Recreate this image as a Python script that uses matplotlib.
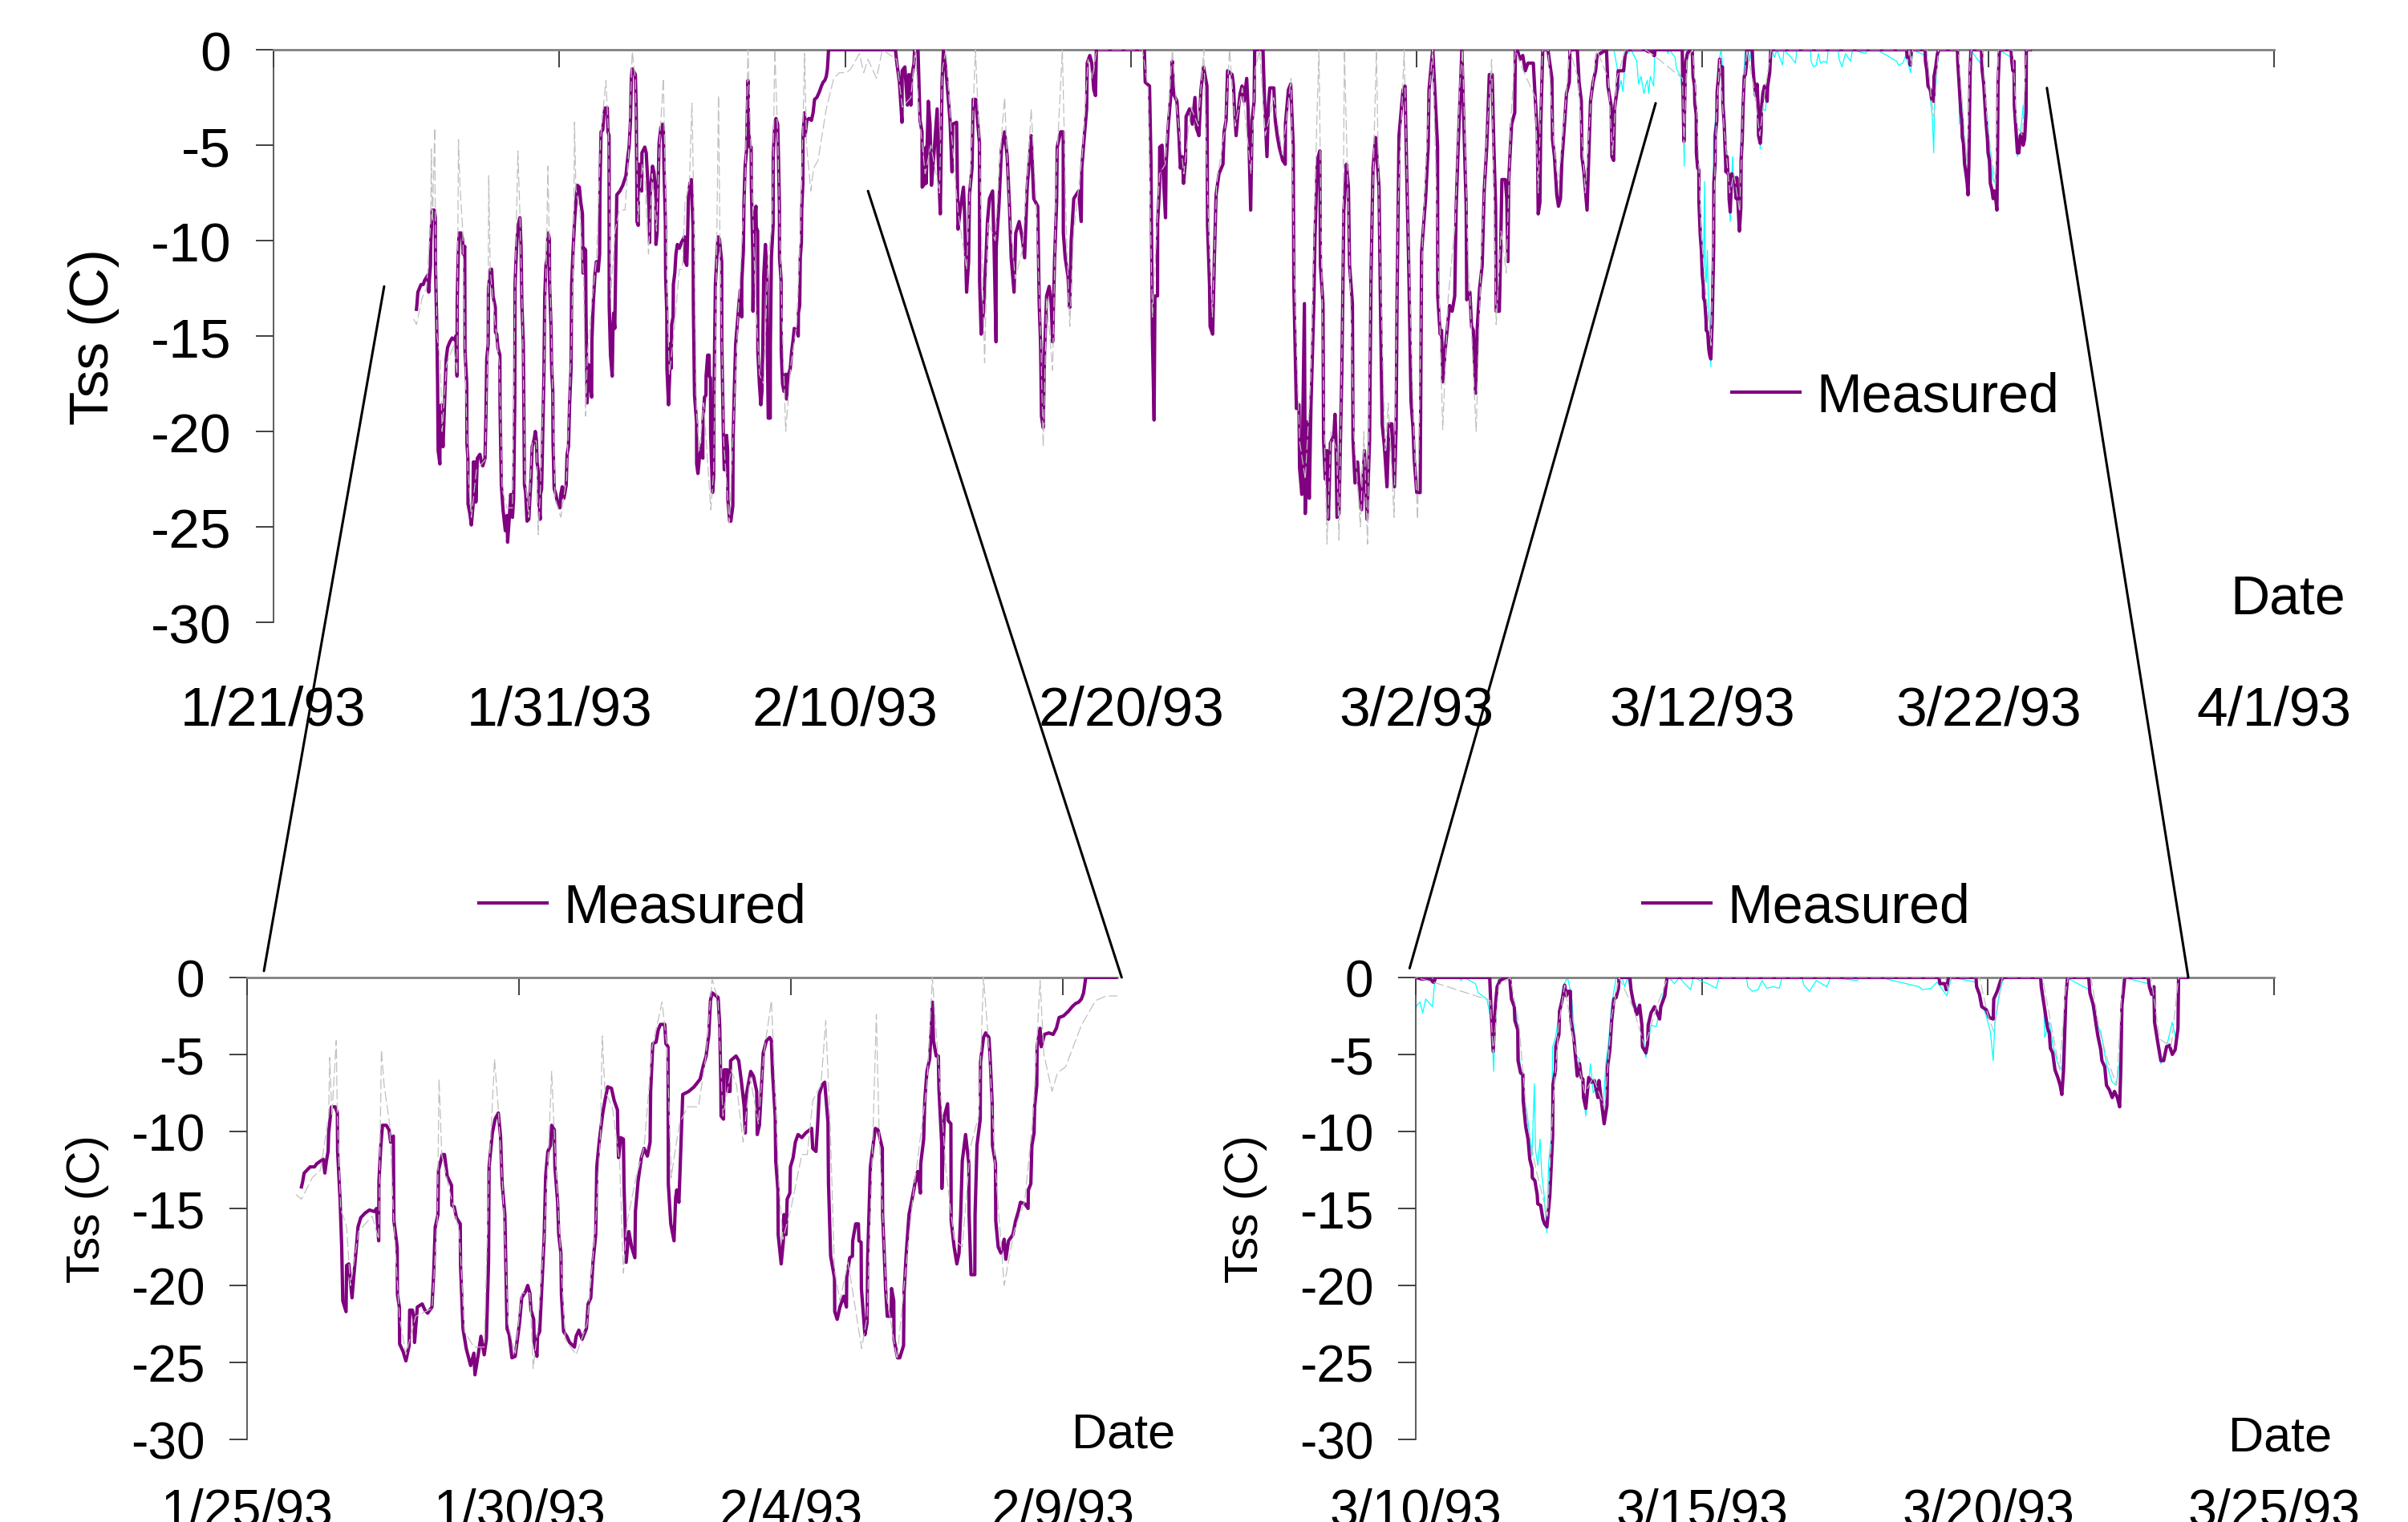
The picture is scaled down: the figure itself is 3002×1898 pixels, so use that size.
import matplotlib
matplotlib.use('Agg')
import matplotlib.pyplot as plt
import matplotlib.dates as mdates
import pandas as pd
from matplotlib.patches import ConnectionPatch

plt.rcParams['font.family'] = ['Liberation Sans', 'DejaVu Sans']
plt.rcParams['axes.unicode_minus'] = False

START = pd.Timestamp('1993-01-21')

# (days after 1/21/93, Tss in C)
measured = [
    (5.00, -13.6), (5.02, -13.3), (5.05, -12.7), (5.16, -12.3), (5.24, -12.3), (5.28, -12.1),
    (5.36, -11.9), (5.40, -11.8), (5.43, -12.7), (5.46, -11.9), (5.49, -11.3), (5.50, -10.1),
    (5.55, -8.4), (5.62, -8.4), (5.66, -8.8), (5.665, -11.3), (5.71, -14.4), (5.74, -17.5),
    (5.76, -21.0), (5.82, -21.7), (5.83, -18.7), (5.87, -18.6), (5.93, -20.8), (5.96, -19.5),
    (6.01, -17.5), (6.04, -16.2), (6.09, -15.6), (6.17, -15.3), (6.25, -15.1), (6.34, -15.2),
    (6.38, -15.0), (6.42, -17.1), (6.425, -13.2), (6.46, -10.9), (6.49, -9.6), (6.56, -9.6),
    (6.61, -9.9), (6.64, -10.7), (6.69, -10.3), (6.70, -15.8), (6.76, -17.5), (6.765, -20.6),
    (6.80, -21.4), (6.805, -23.8), (6.87, -24.3), (6.92, -24.9), (6.98, -23.9), (6.99, -21.6),
    (7.04, -21.6), (7.07, -22.2), (7.08, -23.7), (7.13, -21.4), (7.22, -21.2), (7.27, -21.6),
    (7.32, -21.8), (7.40, -21.4), (7.43, -19.3), (7.46, -16.2), (7.51, -15.4), (7.52, -12.5),
    (7.59, -11.5), (7.63, -11.5), (7.68, -12.9), (7.76, -13.5), (7.765, -14.8), (7.81, -14.9),
    (7.85, -15.6), (7.92, -16.0), (7.925, -18.7), (7.97, -22.8), (8.03, -24.1), (8.11, -25.2),
    (8.17, -24.4), (8.19, -25.8), (8.25, -24.5), (8.30, -23.3), (8.36, -24.5), (8.40, -23.5),
    (8.44, -18.5), (8.45, -12.3), (8.51, -10.1), (8.56, -9.2), (8.62, -8.8), (8.66, -10.3),
    (8.69, -13.4), (8.74, -15.4), (8.76, -19.1), (8.78, -22.8), (8.82, -23.2), (8.87, -24.7),
    (8.93, -24.6), (9.01, -22.4), (9.05, -20.8), (9.12, -20.4), (9.16, -20.0), (9.20, -20.5),
    (9.22, -21.6), (9.27, -22.2), (9.28, -23.7), (9.33, -24.6), (9.34, -23.3), (9.38, -23.0),
    (9.42, -20.0), (9.46, -17.1), (9.49, -12.9), (9.53, -11.3), (9.58, -10.9), (9.60, -9.6),
    (9.65, -9.9), (9.66, -12.3), (9.71, -14.6), (9.73, -16.7), (9.77, -17.9), (9.78, -20.6),
    (9.82, -23.0), (9.88, -23.3), (9.93, -23.7), (10.02, -24.0), (10.05, -23.3), (10.10, -22.9),
    (10.16, -23.5), (10.24, -22.8), (10.27, -21.2), (10.32, -20.8), (10.36, -18.5), (10.41, -16.7),
    (10.43, -12.3), (10.48, -10.5), (10.54, -8.8), (10.58, -8.0), (10.63, -7.1), (10.70, -7.2),
    (10.75, -8.0), (10.81, -8.6), (10.82, -10.5), (10.83, -11.7), (10.87, -10.4), (10.92, -10.5),
    (10.93, -13.4), (10.97, -18.5), (11.02, -16.5), (11.07, -17.5), (11.13, -18.2), (11.14, -15.2),
    (11.19, -13.2), (11.25, -11.7), (11.30, -11.1), (11.36, -11.6), (11.41, -10.7), (11.42, -7.4),
    (11.46, -4.3), (11.52, -4.2), (11.56, -3.4), (11.60, -3.05), (11.68, -3.05), (11.70, -4.3),
    (11.74, -4.5), (11.745, -13.4), (11.79, -16.0), (11.85, -17.1), (11.88, -14.3), (11.90, -13.8),
    (11.94, -14.6), (12.01, -7.6), (12.12, -7.4), (12.22, -7.1), (12.33, -6.6), (12.39, -5.7),
    (12.44, -5.1), (12.49, -3.7), (12.52, -1.5), (12.55, -1.0), (12.66, -1.3), (12.69, -3.1),
    (12.71, -6.8), (12.715, -9.0), (12.76, -9.2), (12.77, -6.0), (12.83, -6.0), (12.835, -7.4),
    (12.88, -7.4), (12.89, -5.4), (12.99, -5.1), (13.04, -5.4), (13.09, -6.8), (13.14, -8.4),
    (13.16, -10.1), (13.18, -7.6), (13.26, -6.1), (13.31, -6.4), (13.37, -7.4), (13.38, -10.2),
    (13.42, -9.6), (13.45, -7.6), (13.49, -4.9), (13.55, -4.1), (13.61, -3.9), (13.64, -4.1),
    (13.66, -6.1), (13.71, -9.0), (13.72, -11.9), (13.76, -13.8), (13.765, -16.7), (13.82, -18.6),
    (13.86, -17.1), (13.87, -15.4), (13.91, -16.7), (13.93, -14.4), (13.98, -14.0), (13.99, -12.3),
    (14.04, -11.7), (14.08, -10.7), (14.13, -10.2), (14.20, -10.4), (14.27, -10.1), (14.38, -9.8),
    (14.40, -11.1), (14.46, -11.3), (14.49, -9.6), (14.52, -7.6), (14.57, -7.0), (14.62, -6.8),
    (14.68, -9.4), (14.69, -13.4), (14.73, -18.1), (14.80, -19.5), (14.805, -21.7), (14.85, -22.2),
    (14.90, -21.4), (14.97, -20.7), (15.02, -21.4), (15.025, -19.5), (15.08, -18.2), (15.13, -18.1),
    (15.135, -17.1), (15.19, -16.0), (15.24, -16.0), (15.25, -17.1), (15.29, -17.2), (15.295, -20.2),
    (15.36, -23.2), (15.40, -22.4), (15.41, -18.3), (15.46, -12.3), (15.51, -10.9), (15.55, -9.8),
    (15.60, -9.9), (15.68, -11.1), (15.685, -15.4), (15.71, -17.5), (15.74, -20.2), (15.77, -22.0),
    (15.84, -22.0), (15.85, -20.2), (15.89, -21.0), (15.895, -23.5), (15.96, -24.7), (16.00, -24.7),
    (16.07, -23.9), (16.08, -20.4), (16.12, -17.9), (16.17, -15.4), (16.22, -14.5), (16.29, -13.2),
    (16.33, -12.6), (16.38, -14.0), (16.385, -12.1), (16.44, -10.5), (16.46, -8.0), (16.50, -6.1),
    (16.55, -5.3), (16.57, -3.9), (16.60, -1.6), (16.62, -4.1), (16.67, -5.1), (16.71, -5.1),
    (16.72, -7.2), (16.77, -10.7), (16.775, -13.7), (16.82, -9.0), (16.88, -8.2), (16.89, -9.3),
    (16.94, -9.5), (16.945, -15.8), (17.00, -17.5), (17.05, -18.6), (17.09, -17.9), (17.12, -15.4),
    (17.15, -11.9), (17.21, -10.2), (17.27, -12.1), (17.275, -15.4), (17.31, -19.3), (17.38, -19.3),
    (17.385, -15.4), (17.42, -10.9), (17.48, -9.2), (17.485, -5.5), (17.54, -3.9), (17.58, -3.6),
    (17.64, -3.9), (17.66, -5.1), (17.70, -8.2), (17.705, -10.9), (17.76, -12.1), (17.765, -15.8),
    (17.81, -17.5), (17.86, -17.9), (17.92, -17.0), (17.95, -18.3), (18.00, -17.1), (18.08, -16.7),
    (18.13, -15.8), (18.18, -15.2), (18.22, -14.6), (18.30, -14.7), (18.36, -15.0), (18.365, -13.8),
    (18.41, -13.4), (18.43, -10.9), (18.47, -10.1), (18.48, -8.4), (18.52, -7.0), (18.525, -4.5),
    (18.58, -3.3), (18.60, -4.5), (18.66, -3.7), (18.74, -3.6), (18.82, -3.7), (18.88, -3.3),
    (18.93, -2.6), (19.01, -2.5), (19.10, -2.2), (19.17, -1.9), (19.23, -1.7), (19.29, -1.6),
    (19.34, -1.4), (19.38, -1.0), (19.42, 0.0), (21.76, 0.0), (21.81, -0.7), (21.90, -1.7),
    (21.99, -3.8), (21.995, -1.1), (22.09, -0.9), (22.18, -2.9), (22.23, -1.3), (22.30, -2.9),
    (22.32, -1.5), (22.41, -0.7), (22.43, 0.0), (22.55, 0.0), (22.62, -3.7), (22.69, -4.3),
    (22.695, -7.2), (22.79, -7.0), (22.83, -5.1), (22.835, -7.0), (22.91, -2.7), (22.97, -3.9),
    (23.02, -7.1), (23.11, -5.4), (23.22, -3.1), (23.25, -5.4), (23.33, -8.6), (23.39, -1.7),
    (23.44, 0.0), (23.53, -1.1), (23.67, -3.7), (23.74, -6.4), (23.76, -3.9), (23.90, -3.8),
    (23.95, -9.4), (24.04, -8.2), (24.14, -7.2), (24.18, -8.6), (24.25, -12.7), (24.32, -11.1),
    (24.35, -7.6), (24.44, -6.2), (24.48, -2.6), (24.57, -2.6), (24.70, -4.9), (24.705, -12.1),
    (24.76, -14.9), (24.84, -13.7), (24.88, -12.3), (24.93, -10.9), (24.98, -9.0), (25.05, -7.8),
    (25.16, -7.4), (25.21, -10.2), (25.28, -15.3), (25.285, -10.4), (25.38, -8.2), (25.47, -5.2),
    (25.58, -4.3), (25.67, -5.6), (25.75, -8.2), (25.81, -10.9), (25.91, -12.7), (25.97, -9.6),
    (26.09, -9.0), (26.19, -9.8), (26.28, -10.9), (26.37, -7.2), (26.51, -4.5), (26.60, -7.8),
    (26.74, -8.2), (26.79, -13.3), (26.84, -15.5), (26.87, -19.2), (26.93, -19.8), (26.98, -15.7),
    (27.05, -12.9), (27.14, -12.4), (27.21, -13.3), (27.26, -15.3), (27.33, -10.9), (27.40, -8.0),
    (27.42, -5.1), (27.54, -4.3), (27.63, -4.3), (27.635, -9.6), (27.70, -10.9), (27.80, -11.9),
    (27.86, -13.5), (27.91, -10.0), (28.00, -7.8), (28.17, -7.4), (28.26, -9.0), (28.28, -6.2),
    (28.36, -4.7), (28.45, -3.1), (28.47, -0.7), (28.56, -0.3), (28.63, -0.7), (28.70, -2.1),
    (28.76, -2.4), (28.79, 0.0), (30.47, 0.0), (30.50, -1.7), (30.65, -1.9), (30.70, -5.8),
    (30.75, -14.9), (30.81, -19.4), (30.84, -12.9), (30.93, -12.9), (30.935, -9.0), (31.00, -7.2),
    (31.005, -5.1), (31.09, -5.0), (31.12, -6.2), (31.21, -8.8), (31.23, -6.0), (31.31, -3.9),
    (31.40, -2.3), (31.45, -0.6), (31.49, -2.3), (31.61, -2.7), (31.68, -4.5), (31.73, -6.2),
    (31.80, -5.6), (31.84, -7.0), (31.91, -5.8), (31.93, -3.5), (32.05, -3.1), (32.15, -3.9),
    (32.24, -2.5), (32.29, -4.1), (32.38, -4.5), (32.45, -2.1), (32.54, -0.9), (32.66, -1.9),
    (32.68, -9.2), (32.75, -12.3), (32.77, -14.5), (32.86, -14.9), (32.92, -10.9), (32.98, -7.6),
    (33.08, -6.5), (33.22, -6.0), (33.26, -4.3), (33.33, -3.7), (33.38, -1.1), (33.54, -1.3),
    (33.59, -1.9), (33.63, -3.3), (33.68, -4.5), (33.76, -3.1), (33.82, -2.3), (33.89, -1.9),
    (33.96, -2.7), (34.05, -1.5), (34.10, -3.1), (34.19, -8.4), (34.24, -3.7), (34.31, -2.7),
    (34.33, 0.0), (34.62, 0.0), (34.68, -2.9), (34.76, -5.6), (34.81, -2.9), (34.86, -2.0),
    (35.00, -2.0), (35.05, -3.7), (35.12, -4.5), (35.19, -5.1), (35.31, -5.8), (35.40, -6.0),
    (35.405, -3.9), (35.51, -2.1), (35.59, -1.8), (35.68, -5.1), (35.70, -12.3), (35.79, -18.8),
    (35.88, -18.6), (35.90, -21.9), (35.98, -23.3), (36.07, -13.3), (36.10, -24.3), (36.18, -19.5),
    (36.24, -23.5), (36.30, -18.6), (36.40, -13.3), (36.44, -9.8), (36.52, -5.8), (36.61, -5.3),
    (36.63, -11.3), (36.72, -13.3), (36.74, -20.4), (36.80, -22.5), (36.86, -21.0), (36.91, -24.6),
    (36.98, -20.6), (37.10, -20.2), (37.14, -19.1), (37.17, -20.2), (37.21, -24.5), (37.28, -24.3),
    (37.38, -16.8), (37.45, -8.4), (37.54, -6.0), (37.61, -7.2), (37.65, -11.3), (37.75, -13.3),
    (37.77, -20.4), (37.84, -22.7), (37.93, -21.6), (37.98, -22.7), (38.07, -24.1), (38.17, -21.0),
    (38.26, -24.6), (38.35, -20.4), (38.40, -11.9), (38.47, -6.2), (38.56, -4.6), (38.68, -7.2),
    (38.73, -13.3), (38.79, -19.6), (38.87, -20.8), (38.96, -22.9), (39.03, -19.6), (39.13, -19.6),
    (39.22, -22.9), (39.28, -19.8), (39.31, -13.3), (39.38, -4.5), (39.52, -2.1), (39.59, -1.9),
    (39.66, -7.2), (39.72, -11.3), (39.80, -18.4), (39.87, -19.8), (39.91, -21.4), (40.00, -23.2),
    (40.12, -23.2), (40.15, -15.3), (40.17, -10.6), (40.31, -7.8), (40.40, -5.1), (40.43, -2.1),
    (40.52, -0.6), (40.56, 0.0), (40.62, -1.7), (40.73, -5.1), (40.735, -12.9), (40.82, -14.9),
    (40.87, -14.7), (40.91, -17.4), (41.01, -15.5), (41.15, -13.4), (41.24, -13.7), (41.33, -12.9),
    (41.38, -8.2), (41.45, -5.1), (41.54, -1.5), (41.58, 0.0), (41.66, -4.5), (41.73, -8.2),
    (41.75, -13.1), (41.86, -12.7), (41.92, -14.5), (41.98, -14.7), (42.06, -18.0), (42.12, -14.5),
    (42.20, -12.5), (42.29, -11.3), (42.36, -7.4), (42.45, -5.1), (42.54, -1.3), (42.64, -1.3),
    (42.70, -5.1), (42.76, -8.2), (42.78, -13.7), (42.89, -13.7), (42.94, -10.2), (42.98, -6.8),
    (43.10, -6.8), (43.15, -7.8), (43.19, -11.1), (43.22, -6.8), (43.32, -3.9), (43.43, -3.3),
    (43.45, 0.0), (43.52, 0.0), (43.61, -0.5), (43.71, -0.3), (43.80, -1.1), (43.89, -0.7),
    (44.08, -0.7), (44.13, -2.1), (44.22, -4.3), (44.25, -8.6), (44.31, -8.0), (44.34, -3.9),
    (44.41, 0.0), (44.59, 0.0), (44.73, -1.5), (44.75, -4.7), (44.82, -5.6), (44.90, -7.6),
    (44.96, -8.2), (45.03, -7.8), (45.08, -5.8), (45.18, -3.7), (45.24, -2.3), (45.34, -1.7),
    (45.36, 0.0), (45.62, 0.0), (45.68, -1.7), (45.76, -2.7), (45.78, -5.6), (45.85, -6.4),
    (45.96, -8.4), (46.03, -5.1), (46.08, -2.7), (46.17, -1.7), (46.26, -1.1), (46.31, -0.3),
    (46.64, 0.0), (46.69, -1.9), (46.80, -2.9), (46.83, -5.6), (46.89, -5.8), (46.92, -3.1),
    (47.01, -2.1), (47.05, -1.1), (47.24, -1.1), (47.29, -0.3), (47.34, 0.0), (48.00, 0.0),
    (48.10, -0.1), (48.25, -0.1), (48.30, -0.3), (48.32, -0.3), (48.34, 0.0), (49.29, 0.0),
    (49.31, -1.8), (49.35, -4.8), (49.39, -1.8), (49.42, -0.6), (49.47, -0.2), (49.52, -0.1),
    (49.57, 0.0), (49.64, 0.0), (49.67, -1.4), (49.72, -1.9), (49.73, -2.8), (49.78, -3.4),
    (49.785, -5.4), (49.83, -6.2), (49.87, -6.3), (49.875, -8.0), (49.92, -9.7), (49.96, -10.5),
    (49.99, -11.8), (50.03, -12.4), (50.035, -13.0), (50.08, -13.2), (50.12, -14.1), (50.13, -14.7),
    (50.18, -14.8), (50.22, -15.7), (50.25, -16.0), (50.29, -16.2), (50.34, -14.2), (50.39, -10.3),
    (50.395, -7.0), (50.44, -6.0), (50.445, -4.5), (50.50, -3.7), (50.51, -2.2), (50.56, -1.4),
    (50.60, -0.5), (50.63, -1.2), (50.66, -0.9), (50.70, -0.9), (50.71, -2.8), (50.76, -3.9),
    (50.80, -5.6), (50.82, -6.4), (50.86, -5.6), (50.89, -6.5), (50.92, -6.6), (50.93, -7.8),
    (50.97, -8.5), (51.02, -6.5), (51.07, -6.8), (51.12, -6.7), (51.18, -7.8), (51.20, -6.7),
    (51.24, -8.0), (51.29, -9.5), (51.34, -8.3), (51.35, -5.8), (51.39, -4.7), (51.42, -2.9),
    (51.46, -1.4), (51.50, -1.3), (51.54, -0.7), (51.55, 0.0), (51.74, 0.0), (51.76, -0.8),
    (51.80, -1.6), (51.86, -2.4), (51.91, -1.8), (51.95, -3.1), (51.96, -4.5), (52.02, -4.9),
    (52.05, -4.3), (52.06, -3.1), (52.11, -2.3), (52.17, -1.9), (52.26, -2.7), (52.28, -1.9),
    (52.35, -1.2), (52.37, -0.6), (52.39, 0.0), (57.14, 0.0), (57.16, -0.4), (57.24, -0.4),
    (57.27, -0.8), (57.31, 0.0), (57.79, 0.0), (57.80, -0.6), (57.85, -1.1), (57.89, -1.9),
    (57.97, -2.1), (58.02, -2.6), (58.09, -2.7), (58.10, -1.4), (58.16, -0.9), (58.22, -0.2),
    (58.27, 0.0), (58.92, 0.0), (58.93, -0.6), (58.98, -1.8), (59.04, -3.3), (59.07, -3.6),
    (59.09, -4.6), (59.13, -4.9), (59.17, -6.0), (59.22, -6.5), (59.26, -7.0), (59.29, -7.6),
    (59.32, -6.0), (59.36, -1.3), (59.39, 0.0), (59.76, 0.0), (59.78, -1.0), (59.84, -1.8),
    (59.89, -3.1), (59.92, -3.8), (59.97, -4.7), (59.99, -5.4), (60.04, -5.8), (60.07, -7.0),
    (60.12, -7.3), (60.17, -7.8), (60.21, -7.4), (60.26, -7.8), (60.30, -8.4), (60.32, -6.0),
    (60.34, -1.8), (60.39, 0.0), (60.80, 0.0), (60.82, -0.6), (60.86, -1.1), (60.90, -0.6),
    (60.91, -2.9), (60.97, -4.3), (61.02, -5.4), (61.07, -5.4), (61.12, -4.5), (61.17, -4.4),
    (61.22, -5.0), (61.27, -4.7), (61.32, -3.3), (61.33, 0.0), (61.47, 0.0),
]

# thin grey dashed run
model_grey = [
    (4.9, -14.1), (5.0, -14.4), (5.2, -13.0), (5.35, -12.5), (5.5, -9.0), (5.52, -5.2), (5.56, -9.0),
    (5.64, -4.1), (5.66, -9.0), (5.72, -15.0), (5.83, -16.2), (5.9, -20.0), (6.05, -16.5),
    (6.3, -15.5), (6.42, -17.0), (6.47, -4.7), (6.52, -7.0), (6.62, -9.5), (6.7, -16.0),
    (6.8, -22.0), (6.92, -24.5), (7.1, -22.0), (7.4, -21.5), (7.5, -15.5), (7.53, -6.6),
    (7.58, -11.5), (7.7, -13.5), (7.9, -16.5), (8.0, -23.0), (8.17, -24.0), (8.36, -24.0),
    (8.45, -12.5), (8.55, -5.3), (8.62, -8.6), (8.72, -15.0), (8.8, -22.5), (8.93, -24.5),
    (9.05, -20.5), (9.2, -20.5), (9.26, -25.4), (9.34, -23.0), (9.46, -17.0), (9.55, -10.5),
    (9.6, -6.1), (9.66, -11.0), (9.75, -17.0), (9.85, -23.5), (10.05, -24.5), (10.25, -22.5),
    (10.4, -16.5), (10.5, -10.0), (10.53, -3.8), (10.58, -7.3), (10.72, -8.5), (10.85, -12.0),
    (10.92, -19.2), (10.98, -16.0), (11.15, -13.0), (11.3, -11.0), (11.45, -4.5), (11.63, -1.6),
    (11.72, -4.5), (11.8, -13.0), (11.85, -11.7), (11.95, -9.5), (12.1, -8.4), (12.3, -8.4),
    (12.44, -5.0), (12.55, -0.1), (12.66, -1.5), (12.75, -9.0), (12.9, -6.0), (13.0, -7.0),
    (13.12, -10.7), (13.25, -6.5), (13.4, -9.5), (13.5, -5.0), (13.64, -1.5), (13.7, -6.5),
    (13.78, -13.5), (13.85, -17.0), (14.0, -15.0), (14.2, -11.5), (14.3, -11.5), (14.4, -8.0),
    (14.55, -7.0), (14.64, -2.8), (14.72, -9.5), (14.8, -19.0), (14.9, -21.0), (15.05, -18.5),
    (15.3, -24.1), (15.4, -22.0), (15.5, -11.0), (15.57, -2.4), (15.62, -10.0), (15.75, -20.5),
    (15.95, -24.8), (16.08, -20.0), (16.25, -14.0), (16.5, -7.0), (16.6, 0.0), (16.7, -5.0),
    (16.85, -12.5), (17.0, -17.0), (17.15, -17.5), (17.3, -11.0), (17.45, -9.0), (17.54, 0.0),
    (17.65, -5.0), (17.75, -12.0), (17.92, -20.0), (18.1, -16.5), (18.3, -14.5), (18.45, -9.0),
    (18.58, -0.2), (18.65, -5.0), (18.8, -7.4), (18.9, -6.2), (19.05, -5.8), (19.34, -3.1),
    (19.6, -1.5), (19.8, -1.2), (20.05, -1.2), (20.2, -1.0), (20.5, -0.2), (20.65, -1.2),
    (20.8, -0.5), (21.1, -1.5), (21.3, 0.0), (21.8, -0.5), (22.0, -3.0), (22.3, -2.5),
    (22.45, 0.0), (22.6, -3.5), (22.8, -6.5), (23.0, -5.0), (23.3, -7.5), (23.4, -1.0),
    (23.53, 0.0), (23.7, -4.0), (23.95, -8.5), (24.25, -11.5), (24.4, -6.0), (24.56, 0.0),
    (24.7, -5.0), (24.88, -16.4), (25.0, -9.0), (25.25, -10.0), (25.4, -6.0), (25.58, -2.5),
    (25.75, -8.5), (25.95, -12.0), (26.2, -10.5), (26.4, -6.0), (26.51, -3.1), (26.7, -8.5),
    (26.85, -15.5), (26.93, -20.8), (27.05, -13.0), (27.26, -16.8), (27.4, -6.0), (27.6, 0.0),
    (27.75, -10.0), (27.86, -14.5), (28.0, -9.5), (28.3, -5.5), (28.5, -0.5), (28.65, -1.5),
    (28.8, 0.0), (30.4, 0.0), (30.6, -2.0), (30.75, -14.0), (30.85, -11.0), (31.0, -6.5),
    (31.2, -6.0), (31.45, 0.0), (31.6, -3.0), (31.85, -6.5), (32.1, -3.0), (32.35, -4.0),
    (32.55, 0.0), (32.7, -8.5), (32.85, -14.0), (33.0, -7.0), (33.3, -4.0), (33.45, 0.0),
    (33.65, -4.0), (33.9, -2.0), (34.2, -6.5), (34.35, -1.0), (34.5, 0.0), (34.7, -4.5),
    (35.0, -2.5), (35.3, -5.5), (35.6, -1.5), (35.72, -12.0), (35.9, -20.5), (36.1, -22.5),
    (36.3, -17.0), (36.5, -4.0), (36.58, 0.0), (36.65, -9.0), (36.75, -19.0), (36.86, -25.9),
    (37.0, -20.0), (37.2, -21.0), (37.28, -25.7), (37.4, -14.0), (37.47, 0.0), (37.6, -8.0),
    (37.8, -20.0), (38.03, -25.0), (38.15, -20.0), (38.28, -25.9), (38.4, -11.0), (38.59, 0.0),
    (38.7, -10.0), (38.9, -21.0), (39.0, -18.5), (39.21, -24.5), (39.35, -8.0), (39.56, 0.0),
    (39.7, -9.5), (39.9, -20.0), (40.03, -24.6), (40.2, -10.0), (40.45, -2.0), (40.56, 0.0),
    (40.75, -11.0), (40.91, -19.9), (41.1, -13.0), (41.35, -9.0), (41.5, -2.0), (41.6, 0.0),
    (41.8, -11.0), (42.08, -20.0), (42.25, -11.0), (42.45, -4.5), (42.62, -0.5), (42.78, -14.4),
    (42.95, -9.5), (43.13, -11.7), (43.3, -3.5), (43.45, 0.0), (43.7, -1.0), (44.0, -2.0),
    (44.15, -2.5), (44.25, -7.5), (44.4, 0.0), (44.6, 0.0), (44.8, -5.0), (44.95, -7.0),
    (45.2, -3.0), (45.35, 0.0), (45.65, -1.5), (45.9, -7.5), (46.1, -2.5), (46.3, 0.0),
    (46.7, -1.5), (46.85, -5.5), (47.0, -1.5), (47.3, 0.0), (48.0, 0.0), (48.3, -0.3),
    (49.3, -1.5), (49.35, -5.0), (49.45, -0.5), (49.65, 0.0), (49.8, -3.0), (49.95, -9.5),
    (50.1, -12.5), (50.2, -14.0), (50.3, -15.5), (50.4, -8.0), (50.5, -3.0), (50.6, -0.5),
    (50.75, -4.0), (50.95, -7.5), (51.1, -6.5), (51.3, -8.5), (51.42, -2.5), (51.55, 0.0),
    (51.8, -2.0), (52.0, -4.5), (52.2, -2.0), (52.4, 0.0), (57.25, 0.0), (57.3, -0.8),
    (57.35, 0.0), (57.85, 0.0), (58.0, -2.5), (58.1, -3.5), (58.25, 0.0), (58.95, 0.0),
    (59.1, -3.0), (59.25, -6.0), (59.35, -1.0), (59.4, 0.0), (59.8, 0.0), (59.95, -3.5),
    (60.1, -5.5), (60.25, -7.0), (60.35, 0.0), (60.85, 0.0), (61.0, -4.0), (61.2, -4.5),
    (61.33, 0.0), (61.5, 0.0),
]

# thin cyan run (only in March)
model_cyan = [
    (46.9, 0.0), (47.02, -1.0), (47.08, -2.1), (47.15, -1.6), (47.22, -2.2), (47.3, -0.3),
    (47.5, 0.0), (47.7, -0.6), (47.76, -1.8), (47.85, -1.4), (47.95, -2.3), (48.02, -1.8),
    (48.07, -1.6), (48.12, -2.3), (48.17, -1.4), (48.22, -1.6), (48.29, -1.9), (48.32, -0.6),
    (48.34, 0.0), (48.74, 0.0), (48.79, -0.2), (48.84, 0.0), (49.04, -0.4), (49.09, -1.0),
    (49.24, -1.4), (49.32, -2.9), (49.36, -6.1), (49.39, -1.8), (49.44, -0.1), (49.57, 0.0),
    (49.64, 0.0), (49.69, -1.4), (49.77, -2.9), (49.82, -5.6), (49.87, -7.4), (49.94, -8.7),
    (49.99, -10.3), (50.03, -11.6), (50.07, -6.9), (50.09, -11.2), (50.13, -12.2), (50.17, -10.5),
    (50.20, -12.8), (50.24, -14.1), (50.29, -16.6), (50.32, -12.0), (50.37, -10.3), (50.39, -4.5),
    (50.44, -3.9), (50.50, -2.4), (50.57, -0.6), (50.65, 0.0), (50.72, -1.2), (50.80, -5.1),
    (50.86, -5.3), (50.90, -6.8), (50.97, -9.0), (51.05, -5.6), (51.10, -7.5), (51.20, -6.6),
    (51.27, -8.7), (51.32, -5.6), (51.37, -4.1), (51.42, -1.8), (51.50, 0.0), (51.60, 0.0),
    (51.65, -0.6), (51.70, 0.0), (51.80, -1.4), (51.95, -2.9), (52.02, -5.2), (52.11, -3.1),
    (52.20, -3.2), (52.27, -2.0), (52.37, -0.2), (52.42, 0.0), (52.52, -0.4), (52.60, 0.0),
    (52.80, -0.8), (52.85, 0.0), (53.10, -0.4), (53.25, -0.7), (53.30, 0.0), (53.78, 0.0),
    (53.80, -0.6), (53.88, -0.9), (53.98, -0.8), (54.05, -0.2), (54.13, -0.7), (54.25, -0.6),
    (54.35, -0.7), (54.40, 0.0), (54.75, 0.0), (54.78, -0.5), (54.88, -0.9), (55.00, -0.2),
    (55.18, -0.6), (55.25, 0.0), (55.71, -0.2), (55.76, 0.0), (56.11, 0.0), (56.79, -0.6),
    (56.86, -0.8), (57.01, -0.7), (57.11, -0.3), (57.28, -1.2), (57.36, 0.0), (57.79, -0.3),
    (57.86, -1.4), (57.96, -2.4), (58.04, -3.5), (58.09, -5.4), (58.12, -2.9), (58.19, -1.2),
    (58.27, 0.0), (58.93, 0.0), (58.97, -1.2), (58.99, -3.9), (59.07, -2.9), (59.14, -4.5),
    (59.22, -5.6), (59.29, -6.0), (59.34, -2.9), (59.37, 0.0), (59.77, -0.8), (59.87, -2.9),
    (59.97, -3.5), (60.07, -5.6), (60.17, -6.8), (60.24, -7.0), (60.32, -4.9), (60.37, 0.0),
    (60.80, -0.4), (60.87, -0.8), (60.95, -3.9), (61.02, -5.6), (61.12, -4.5), (61.22, -2.9),
    (61.30, -4.3), (61.35, 0.0), (61.47, 0.0),
]

# zoom guides: (days, Tss) on the top chart -> (days, Tss) on a lower chart
zoom_links = [
    ('bl', (3.87, -12.4), (4.31, 0.42)),
    ('bl', (20.8, -7.4), (20.08, 0.0)),
    ('br', (48.36, -2.8), (47.89, 0.6)),
    ('br', (62.05, -2.0), (61.5, 0.0)),
]


def to_dates(pairs):
    days = [p[0] for p in pairs]
    vals = [p[1] for p in pairs]
    return START + pd.to_timedelta(days, unit='D'), vals


def fmt_date(d):
    return f"{d.month}/{d.day}/{d.strftime('%y')}"


def style_panel(ax, first, last, tick_last, step, fs_tick, fs_ytick):
    ax.set_xlim(pd.Timestamp(first), pd.Timestamp(last))
    ax.set_ylim(-30, 0)
    ticks = pd.date_range(first, tick_last, freq=f'{step}D')
    ax.set_xticks(ticks)
    ax.set_xticklabels([fmt_date(t) for t in ticks], fontsize=fs_tick)
    ax.set_yticks(range(-30, 1, 5))
    ax.tick_params(axis='y', labelsize=fs_ytick, length=8, width=0.7, pad=11, color='#404040')
    ax.tick_params(axis='x', bottom=False, top=True, labelbottom=True, labeltop=False,
                   direction='in', length=8, width=0.7, color='#404040')
    ax.spines['right'].set_visible(False)
    ax.spines['bottom'].set_visible(False)
    ax.spines['top'].set_color('#808080')
    ax.spines['top'].set_linewidth(1.0)
    ax.spines['left'].set_color('#404040')
    ax.spines['left'].set_linewidth(0.6)


def draw_series(ax):
    x, y = to_dates(model_cyan)
    ax.plot(x, y, color='#00ffff', lw=0.45, zorder=2)
    x, y = to_dates(measured)
    ax.plot(x, y, color='#800080', lw=1.5, zorder=3, label='Measured')
    x, y = to_dates(model_grey)
    ax.plot(x, y, color='#c0c0c0', lw=0.45, ls=(0, (10, 3.5)), zorder=4)


fig = plt.figure(figsize=(15.01, 9.495), dpi=200)
ax_top = fig.add_axes([0.1136, 0.5908, 0.8308, 0.3760])
ax_bl = fig.add_axes([0.1026, 0.0542, 0.3614, 0.3034])
ax_br = fig.add_axes([0.5880, 0.0542, 0.3564, 0.3034])

for ax in (ax_top, ax_bl, ax_br):
    draw_series(ax)

style_panel(ax_top, '1993-01-21', '1993-04-01', '1993-04-01', 10, 25, 25)
style_panel(ax_bl, '1993-01-25', '1993-02-10', '1993-02-09', 5, 23.2, 23)
style_panel(ax_br, '1993-03-10', '1993-03-25', '1993-03-25', 5, 23.2, 23)
ax_top.tick_params(axis='x', pad=28)
ax_bl.tick_params(axis='x', pad=21.5)
ax_br.tick_params(axis='x', pad=21.5)

ax_top.text(-0.09, 0.5, 'Tss (C)', rotation=90, ha='center', va='center',
            fontsize=25, transform=ax_top.transAxes)
ax_bl.text(-0.183, 0.5, 'Tss (C)', rotation=90, ha='center', va='center',
           fontsize=21, transform=ax_bl.transAxes)
ax_br.text(-0.198, 0.5, 'Tss (C)', rotation=90, ha='center', va='center',
           fontsize=21, transform=ax_br.transAxes)

ax_top.text(1.007, 0.042, 'Date', ha='center', va='center', fontsize=24.5, transform=ax_top.transAxes)
ax_bl.text(1.007, 0.01, 'Date', ha='center', va='center', fontsize=22, transform=ax_bl.transAxes)
ax_br.text(1.007, 0.003, 'Date', ha='center', va='center', fontsize=22, transform=ax_br.transAxes)

for ax, anchor in ((ax_top, (0.729, 0.394)), (ax_bl, (0.266, 1.151)), (ax_br, (0.264, 1.151))):
    ax.legend(loc='center left', bbox_to_anchor=anchor, frameon=False, fontsize=24.5,
              handlelength=1.25, handletextpad=0.3, borderpad=0, borderaxespad=0)

lower = {'bl': ax_bl, 'br': ax_br}
for key, (d_top, v_top), (d_low, v_low) in zoom_links:
    xa = mdates.date2num(START + pd.Timedelta(days=d_top))
    xb = mdates.date2num(START + pd.Timedelta(days=d_low))
    con = ConnectionPatch(xyA=(xa, v_top), coordsA=ax_top.transData,
                          xyB=(xb, v_low), coordsB=lower[key].transData,
                          color='black', lw=1.1)
    fig.add_artist(con)

fig.savefig('out.png', dpi=200)
